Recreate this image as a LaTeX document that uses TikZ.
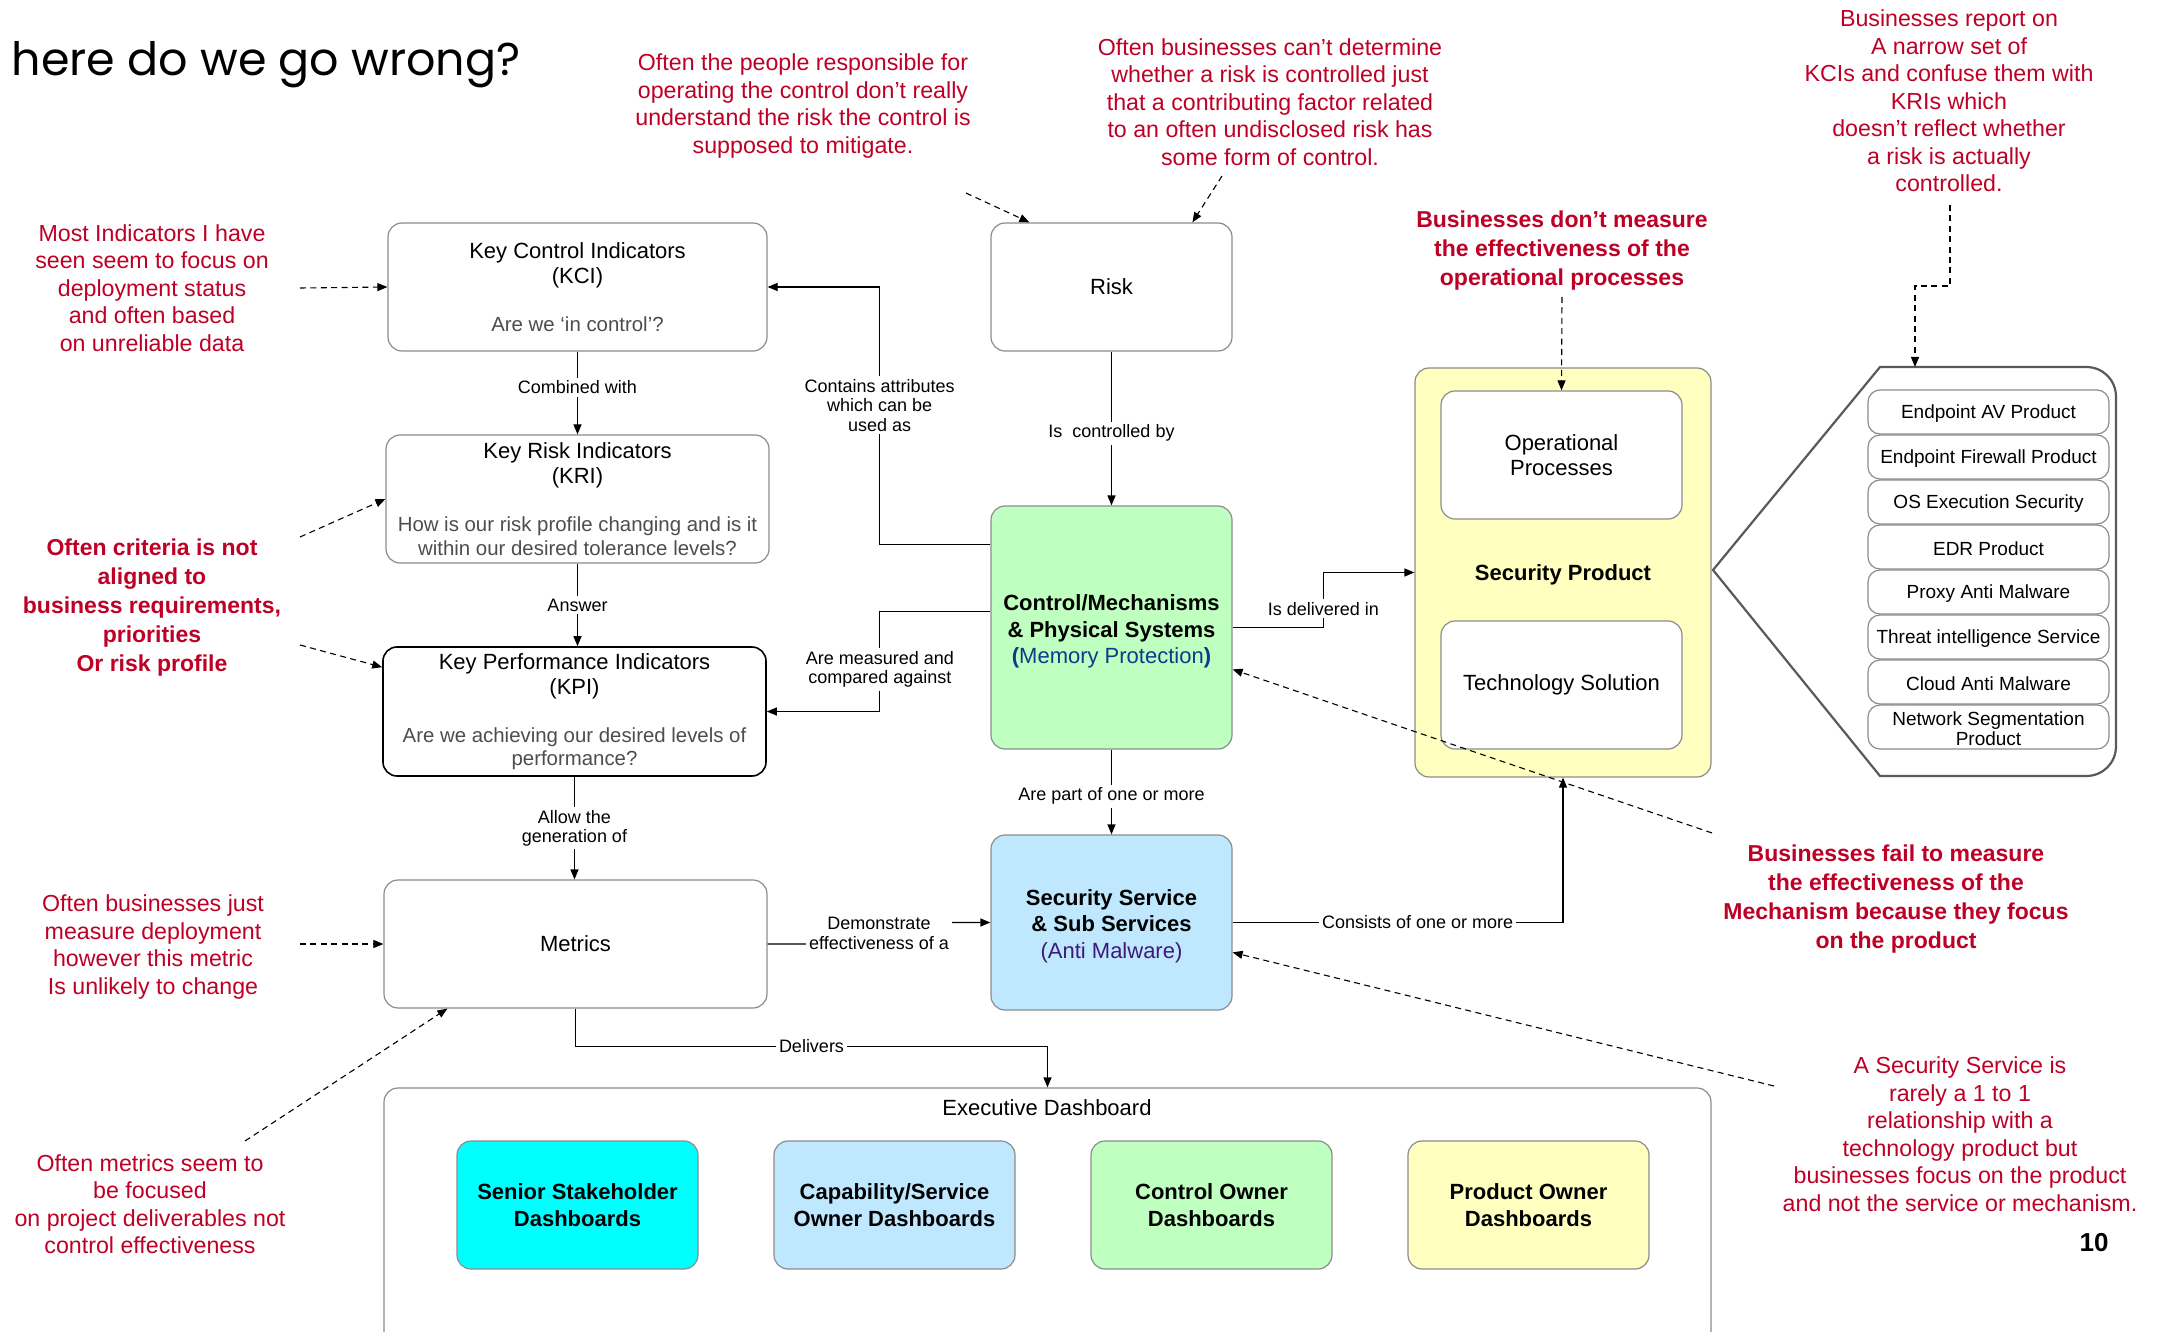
\documentclass[tikz,border=0pt]{standalone}
\usepackage{fontspec}
\setmainfont{Liberation Sans}
\newfontfamily\titlefont{Poppins}
\usetikzlibrary{arrows.meta,calc}
\definecolor{annred}{RGB}{190,0,38}
\definecolor{boxgray}{RGB}{140,140,140}
\definecolor{shapegray}{RGB}{90,90,90}
\definecolor{ctrlgreen}{RGB}{191,255,191}
\definecolor{svcblue}{RGB}{191,232,255}
\definecolor{prodyellow}{RGB}{255,255,192}
\definecolor{dashcyan}{RGB}{0,255,255}
\definecolor{navy}{RGB}{10,60,140}
\definecolor{purp}{RGB}{60,25,125}
\definecolor{qgray}{RGB}{77,77,77}
\newcommand\boxfont{\fontsize{11}{12.5}\selectfont}
\newcommand\qfont{\fontsize{10.2}{11.7}\selectfont\color{qgray}}
\newcommand\boldboxfont{\fontsize{11}{13.2}\selectfont\bfseries}
\newcommand\annfont{\fontsize{11.6}{13.75}\selectfont}
\newcommand\annboldfont{\fontsize{11.5}{14.5}\selectfont\bfseries}
\newcommand\lblfont{\fontsize{9}{9.7}\selectfont}
\newcommand\itemfont{\fontsize{9.5}{11}\selectfont}
% box from corners: [style]{name}{x1}{y1}{x2}{y2}{text}
\newcommand\bx[7][]{\node[#1, minimum width={((#5)-(#3))*0.5pt}, minimum height={((#6)-(#4))*0.5pt}] (#2) at ({((#3)+(#5))/2},{((#4)+(#6))/2}) {#7};}
\begin{document}
\begin{tikzpicture}[x=0.5pt,y=-0.5pt,
  box/.style={draw=boxgray, line width=0.6pt, rounded corners=7pt, inner sep=0pt, align=center, font=\boxfont},
  conn/.style={draw=black, line width=0.6pt, -{Triangle[length=5pt,width=4pt]}},
  dconn/.style={draw=black, line width=0.55pt, dash pattern=on 3pt off 2.2pt, -{Triangle[length=5pt,width=4pt]}},
  lbl/.style={fill=white, inner sep=1.5pt, align=center, font=\lblfont},
  ann/.style={text=annred, align=center, font=\annfont, inner sep=0pt},
  annb/.style={text=annred, align=center, font=\annboldfont, inner sep=0pt},
  item/.style={box, fill=white, rounded corners=6pt, font=\itemfont},
  dboard/.style={box, font=\boldboxfont}
]
\useasboundingbox (0,0) rectangle (2160,1332);
\clip (0,0) rectangle (2160,1332);
\fill[white] (0,0) rectangle (2160,1332);

% title
\node[font=\titlefont\fontsize{23}{23}\selectfont, anchor=base east, inner sep=0pt] (title) at (521,76) {here do we go wrong?};

% left column boxes
\bx[box]{kci}{388}{223}{767}{351}{Key Control Indicators\\(KCI)\\[11.5pt]{\qfont Are we ‘in control’?}}
\bx[box]{kri}{386}{435}{769}{563}{Key Risk Indicators\\(KRI)\\[11.5pt]{\qfont How is our risk profile changing and is it}\\[-0.8pt]{\qfont within our desired tolerance levels?}}
\bx[box, draw=black, line width=0.8pt]{kpi}{383}{647}{766}{776}{Key Performance Indicators\\(KPI)\\[11.5pt]{\qfont Are we achieving our desired levels of}\\[-0.8pt]{\qfont performance?}}
\bx[box]{met}{384}{880}{767}{1008}{Metrics}

% middle column
\bx[box]{risk}{991}{223}{1232}{351}{Risk}
\bx[box, fill=ctrlgreen, font=\boldboxfont]{ctrl}{991}{506}{1232}{749}{\rule{0pt}{12pt}Control/Mechanisms\\\& Physical Systems\\\textcolor{navy}{(\textmd{Memory Protection})}}
\bx[box, fill=svcblue, font=\boldboxfont]{svc}{991}{835}{1232}{1010}{\rule{0pt}{11.5pt}Security Service\\\& Sub Services\\\textcolor{purp}{\textmd{(Anti Malware)}}}

% security product
\bx[box, fill=prodyellow, font=\boldboxfont]{spc}{1415}{368}{1711}{777}{\rule{0pt}{10.5pt}Security Product}
\bx[box, fill=white]{opp}{1441}{391}{1682}{519}{Operational\\Processes}
\bx[box, fill=white]{tech}{1441}{621}{1682}{749}{Technology Solution}

% product list shape
\draw[shapegray, line width=1.1pt] (1713,570) -- (1880,367) -- (2086,367) .. controls (2103,367) and (2116,380) .. (2116,397) -- (2116,746) .. controls (2116,763) and (2103,776) .. (2086,776) -- (1880,776) -- cycle;
\coordinate (prodtop) at (1915,367);
\foreach \i/\t in {0/Endpoint AV Product, 1/Endpoint Firewall Product, 2/OS Execution Security, 3/EDR Product, 4/Proxy Anti Malware, 5/Threat intelligence Service, 6/Cloud Anti Malware, 7/{Network Segmentation\\[-1pt]Product}}{
  \bx[item]{item\i}{1868}{390+45*\i}{2109}{434+45*\i}{\rule{0pt}{8.5pt}\t}
}

% executive dashboard
\bx[box]{exec}{384}{1088}{1711}{1420}{}
\node[font=\boxfont] (exectitle) at (1047,1108) {Executive Dashboard};
\bx[dboard, fill=dashcyan]{d1}{457}{1141}{698}{1269}{Senior Stakeholder\\Dashboards}
\bx[dboard, fill=svcblue]{d2}{774}{1141}{1015}{1269}{Capability/Service\\Owner Dashboards}
\bx[dboard, fill=ctrlgreen]{d3}{1091}{1141}{1332}{1269}{Control Owner\\Dashboards}
\bx[dboard, fill=prodyellow]{d4}{1408}{1141}{1649}{1269}{Product Owner\\Dashboards}

% solid connectors
\draw[conn] (kci.south) -- node[lbl, pos=0.43]{Combined with} (kri.north);
\draw[conn] (kri.south) -- node[lbl]{Answer} (kri.south |- kpi.north);
\draw[conn] (kpi.south) -- node[lbl]{Allow the\\generation of} (kpi.south |- met.north);
\draw[conn] (met.south) |- node[lbl, pos=0.75]{Delivers} ($(exec.north)+(0,-41)$) -- (exec.north);
\draw[conn] (risk.south) -- node[lbl, pos=0.53]{Is\ \ controlled by} (ctrl.north);
\draw[conn] ($(ctrl.north west)+(0,39)$) -| node[lbl, pos=0.77]{Contains attributes\\which can be\\used as} ($(kci.east)+(112,0)$) -- (kci.east);
\draw[conn] ($(ctrl.north west)+(0,106)$) -| node[lbl, pos=0.79]{Are measured and\\compared against} ($(kpi.east)+(113,0)$) -- (kpi.east);
\draw[conn] (ctrl.east) -| node[lbl, pos=0.67]{Is delivered in} ($(spc.west)+(-91,0)$) -- (spc.west);
\draw[conn] (ctrl.south) -- node[lbl, pos=0.55]{Are part of one or more} (svc.north);
\draw[conn] (met.east) -- ($(met.east)+(112,0)$) -- node[lbl]{Demonstrate\\effectiveness of a} ($(svc.west)+(-112,0)$) -- (svc.west);
\draw[conn] (svc.east) -| node[lbl, pos=0.28]{Consists of one or more} (spc.south);

% annotations
\node[ann] (a1) at (152,288) {Most Indicators I have\\seen seem to focus on\\deployment status\\and often based\\on unreliable data};
\node[ann] (a2) at (803,106) {Often the people responsible for\\operating the control don’t really\\understand the risk the control is\\supposed to mitigate.};
\node[ann] (a3) at (1270,102) {Often businesses can’t determine\\whether a risk is controlled just\\that a contributing factor related\\to an often undisclosed risk has\\some form of control.};
\node[ann] (a4) at (1949,101) {Businesses report on\\A narrow set of\\KCIs and confuse them with\\KRIs which\\doesn’t reflect whether\\a risk is actually\\controlled.};
\node[annb] (a5) at (1562,251) {Businesses don’t measure\\the effectiveness of the\\operational processes};
\node[annb] (a6) at (152,608) {Often criteria is not\\aligned to\\business requirements,\\priorities\\Or risk profile};
\node[ann] (a7) at (153,947) {Often businesses just\\measure deployment\\however this metric\\Is unlikely to change};
\node[ann] (a8) at (150,1204) {Often metrics seem to\\be focused\\on project deliverables not\\control effectiveness};
\node[annb] (a9) at (1896,899) {Businesses fail to measure\\the effectiveness of the\\Mechanism because they focus\\on the product};
\node[ann] (a10) at (1960,1134) {A Security Service is\\rarely a 1 to 1\\relationship with a\\technology product but\\businesses focus on the product\\and not the service or mechanism.};
\node[font=\fontsize{13}{13}\selectfont\bfseries] (pagenum) at (2094,1243) {10};

% dashed annotation arrows
\coordinate (s1) at (300,288);
\coordinate (s2a) at (300,537);
\coordinate (s2b) at (300,645);
\coordinate (s3) at (300,944);
\coordinate (s4) at (245,1141);
\coordinate (s5) at (966,193);
\coordinate (s6) at (1222,176);
\coordinate (s7) at (1562,297);
\coordinate (s8) at (1950,205);
\coordinate (s8b) at (1915,286);
\coordinate (s9) at (1712,833);
\coordinate (s10) at (1774,1086);
\draw[dconn] (s1) -- (kci.west);
\draw[dconn] (s2a) -- (kri.west);
\draw[dconn] (s2b) -- ($(kpi.north west)+(0,21)$);
\draw[dconn] (s3) -- (met.west);
\draw[dconn] (s4) -- ($(met.south west)+(64,0)$);
\draw[dconn] (s5) -- ($(risk.north west)+(39,0)$);
\draw[dconn] (s6) -- ($(risk.north west)+(202,0)$);
\draw[dconn] (s7) -- (opp.north);
\draw[dconn] (s8) |- (s8b) -- (prodtop);
\draw[dconn] (s9) -- ($(ctrl.north east)+(0,164)$);
\draw[dconn] (s10) -- ($(svc.north east)+(0,118)$);
\end{tikzpicture}
\end{document}
